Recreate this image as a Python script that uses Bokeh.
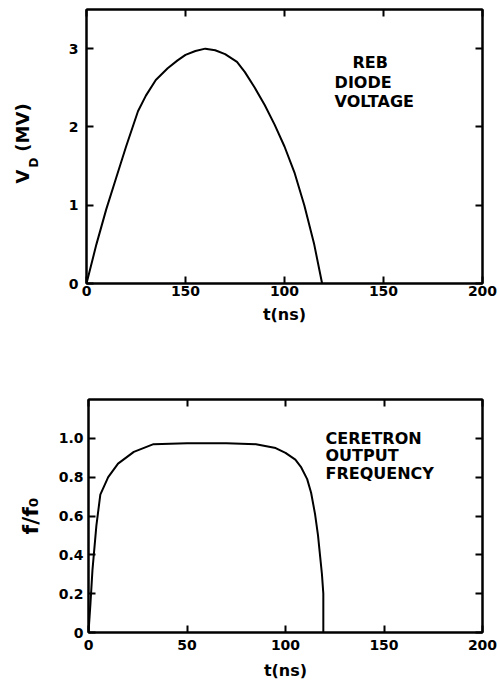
import math
from bokeh.plotting import figure
from bokeh.models import (LinearAxis, FixedTicker, Label, Range1d, PrintfTickFormatter,
                          CustomLabelingPolicy)
from bokeh.layouts import column, row
from bokeh.embed import file_html
from bokeh.resources import INLINE

# ---- data ----
t_top = [0, 5, 10, 15, 20, 26, 30, 35, 41, 46, 50, 55, 60, 65, 70, 76, 80, 85, 90, 95, 100, 105, 110, 115, 119]
v_top = [0, 0.5, 0.95, 1.35, 1.75, 2.2, 2.4, 2.6, 2.75, 2.85, 2.92, 2.97, 3.0, 2.98, 2.93, 2.83, 2.7, 2.5,
         2.28, 2.03, 1.75, 1.42, 1.0, 0.5, 0.0]

t_bot = [0, 1, 2, 4, 6, 10, 15, 23, 33, 50, 70, 85, 95, 100, 105, 108, 111, 113, 115, 116.5, 117.5, 118.5, 119.2, 119.2]
f_bot = [0, 0.15, 0.32, 0.55, 0.71, 0.8, 0.87, 0.93, 0.97, 0.975, 0.975, 0.97, 0.95, 0.925, 0.89, 0.85, 0.79,
         0.72, 0.61, 0.5, 0.4, 0.3, 0.2, 0.0]

x_ticks = [0, 50, 100, 150, 200]
top_x_overrides = {50: "150"}
top_y_ticks = [0, 1, 2, 3]
bot_y_ticks = [0, 0.2, 0.4, 0.6, 0.8, 1.0]

top_note = ["REB", "DIODE", "VOLTAGE"]
bot_note = ["CERETRON", "OUTPUT", "FREQUENCY"]

FONT = "DejaVu Sans"

NO_LABELS = CustomLabelingPolicy(code="""
const ids = [...indices]
for (const i of ids) indices.unset(i)
return indices
""")


def style_axis(ax, ticks, show_labels=True, standoff=5):
    ax.ticker = FixedTicker(ticks=ticks)
    ax.minor_tick_line_color = None
    ax.major_tick_in = 7
    ax.major_tick_out = 0
    ax.major_tick_line_width = 2
    ax.major_tick_line_color = "black"
    ax.axis_line_width = 2
    ax.axis_line_color = "black"
    ax.major_label_standoff = standoff
    ax.major_label_text_font = FONT
    ax.major_label_text_font_style = "bold"
    ax.major_label_text_color = "black"
    if show_labels:
        ax.major_label_text_font_size = "14px"
    else:
        ax.major_label_text_font_size = "1px"
        ax.major_label_standoff = 0
        ax.major_label_policy = NO_LABELS
    ax.axis_label_text_font = FONT
    ax.axis_label_text_font_style = "bold"
    ax.axis_label_text_font_size = "16px"
    ax.axis_label_text_color = "black"


def base_fig(width, yr, min_top, min_bottom, min_left):
    p = figure(width=width, height=345, output_backend="svg", toolbar_location=None,
               x_range=Range1d(0, 200), y_range=yr,
               min_border_top=min_top, min_border_bottom=min_bottom,
               min_border_left=min_left, min_border_right=18)
    p.grid.visible = False
    p.outline_line_color = "black"
    p.outline_line_width = 2
    p.background_fill_color = "white"
    p.border_fill_color = "white"
    return p


# ---- top figure ----
p1 = base_fig(460, Range1d(0, 3.5), 9, 62, 46)
style_axis(p1.xaxis[0], x_ticks, True, 2)
p1.xaxis[0].major_label_overrides = top_x_overrides
p1.xaxis[0].axis_label = "t(ns)"
p1.xaxis[0].axis_label_standoff = 6
style_axis(p1.yaxis[0], top_y_ticks, True, 8)
ax = LinearAxis(); style_axis(ax, x_ticks, False); p1.add_layout(ax, "above")
ax = LinearAxis(); style_axis(ax, top_y_ticks, False); p1.add_layout(ax, "right")
p1.line(t_top, v_top, line_width=2, color="black", line_join="round")

for txt, x, y in zip(top_note, [134.3, 125.3, 125.3], [2.82, 2.57, 2.33]):
    p1.add_layout(Label(x=x, y=y, text=txt, text_font=FONT, text_font_style="bold",
                        text_font_size="16px", text_baseline="middle", text_align="left",
                        text_color="black"))

# narrow panel holding the rotated y label "V_D (MV)"; its frame is aligned with p1's frame
# (page pixels 9..283), so the y range is expressed as 345 - page pixel
lab = figure(width=40, height=345, output_backend="svg", toolbar_location=None,
             x_range=Range1d(0, 40), y_range=Range1d(62, 336),
             x_axis_type=None, y_axis_type=None, min_border=0)
lab.grid.visible = False
lab.outline_line_color = None
for txt, x, y, fs in [("V", 22, 345 - 176, "18px"), ("D", 33, 345 - 162, "12px"),
                      ("(MV)", 22, 345 - 127, "18px")]:
    lab.add_layout(Label(x=x, y=y, text=txt, angle=math.pi / 2, text_font=FONT,
                         text_font_style="bold", text_font_size=fs,
                         text_align="center", text_baseline="middle", text_color="black"))

# ---- bottom figure ----
p2 = base_fig(500, Range1d(0, 1.2), 54, 58, 88)
style_axis(p2.xaxis[0], x_ticks, True, 7)
p2.xaxis[0].axis_label = "t(ns)"
p2.xaxis[0].axis_label_standoff = 8
style_axis(p2.yaxis[0], bot_y_ticks, True, 5)
p2.yaxis[0].formatter = PrintfTickFormatter(format="%.1f")
p2.yaxis[0].major_label_overrides = {0: "0"}
p2.yaxis[0].axis_label = "f/f\u2080"
p2.yaxis[0].axis_label_text_font_size = "22px"
p2.yaxis[0].axis_label_standoff = 13
ax = LinearAxis(); style_axis(ax, x_ticks, False); p2.add_layout(ax, "above")
ax = LinearAxis(); style_axis(ax, bot_y_ticks, False); p2.add_layout(ax, "right")
p2.line(t_bot, f_bot, line_width=2, color="black", line_join="round")

for txt, y in zip(bot_note, [1.0, 0.91, 0.82]):
    p2.add_layout(Label(x=120.3, y=y, text=txt, text_font=FONT, text_font_style="bold",
                        text_font_size="16px", text_baseline="middle", text_align="left",
                        text_color="black"))

layout = column(row(lab, p1, spacing=0), p2, spacing=0)
open("out.html", "w").write(file_html(layout, INLINE))
